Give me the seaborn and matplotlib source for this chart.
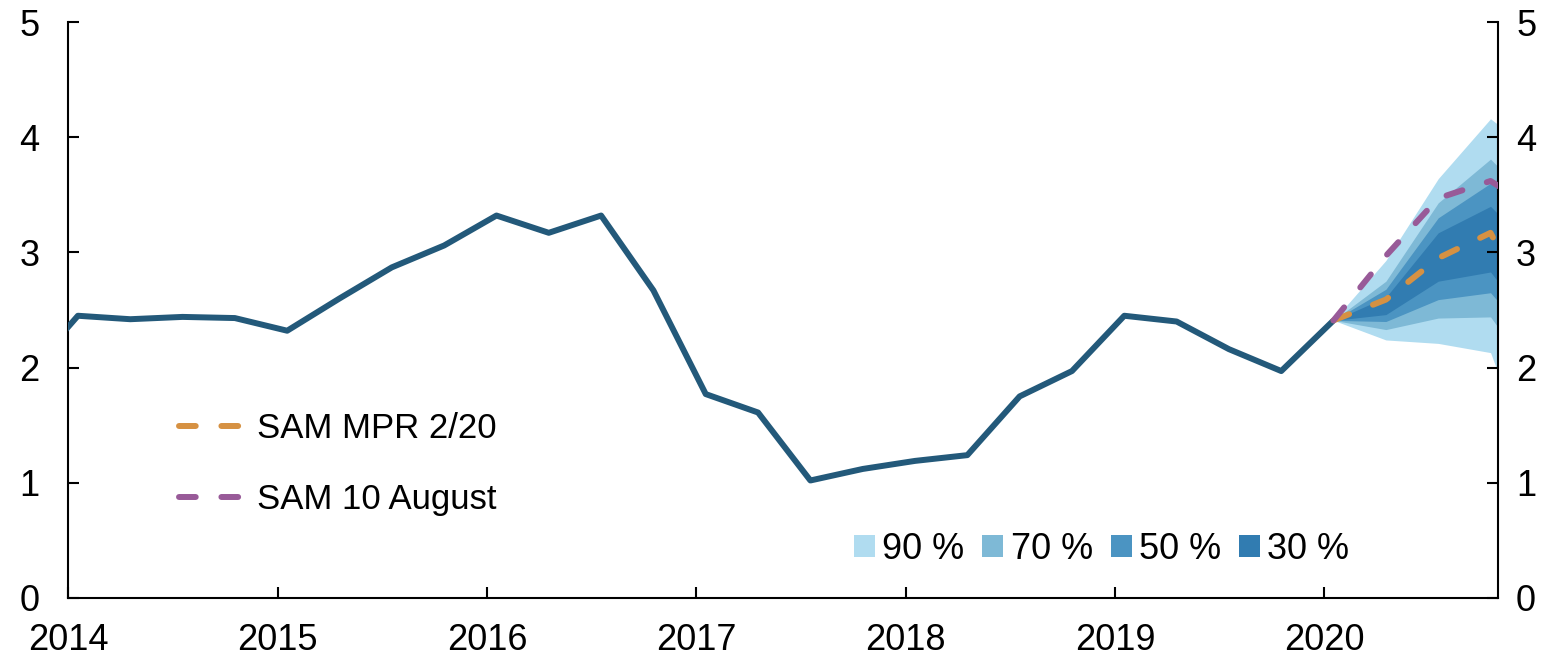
import numpy as np
import pandas as pd
import matplotlib
matplotlib.use("Agg")
import matplotlib.pyplot as plt
from matplotlib.patches import Patch
import seaborn as sns

# Quarterly observations (decimal year of each quarter's observation point)
hist_years = [2013.795, 2014.045, 2014.295, 2014.545, 2014.795,
              2015.045, 2015.295, 2015.545, 2015.795,
              2016.045, 2016.295, 2016.545, 2016.795,
              2017.045, 2017.295, 2017.545, 2017.795,
              2018.045, 2018.295, 2018.545, 2018.795,
              2019.045, 2019.295, 2019.545, 2019.795,
              2020.045]
hist_values = [1.93, 2.45, 2.42, 2.44, 2.43,
               2.32, 2.60, 2.87, 3.06,
               3.32, 3.17, 3.32, 2.67,
               1.77, 1.61, 1.02, 1.12,
               1.19, 1.24, 1.75, 1.97,
               2.45, 2.40, 2.16, 1.97,
               2.41]

# Projection horizon
proj_years = [2020.045, 2020.295, 2020.545, 2020.795, 2021.045]

# Point projections
sam_mpr = [2.41, 2.59, 2.95, 3.17, 2.30]
sam_aug = [2.41, 2.97, 3.47, 3.62, 3.33]

# Uncertainty bands (lower, upper)
band_90_lo = [2.41, 2.24, 2.21, 2.13, 0.91]
band_90_hi = [2.41, 2.93, 3.64, 4.16, 3.81]
band_70_lo = [2.41, 2.33, 2.43, 2.44, 1.81]
band_70_hi = [2.41, 2.75, 3.43, 3.81, 3.35]
band_50_lo = [2.41, 2.40, 2.59, 2.65, 2.13]
band_50_hi = [2.41, 2.68, 3.30, 3.60, 3.25]
band_30_lo = [2.41, 2.46, 2.75, 2.83, 2.25]
band_30_hi = [2.41, 2.61, 3.17, 3.40, 2.94]

band_labels = ["90 %", "70 %", "50 %", "30 %"]
band_colors = ["#b0dcf0", "#7eb9d6", "#4b94c2", "#317cb1"]

line_labels = ["SAM MPR 2/20", "SAM 10 August"]
line_colors = ["#d69142", "#985a98"]
main_color = "#23597a"

year_ticks = [2014, 2015, 2016, 2017, 2018, 2019, 2020]
value_ticks = [0, 1, 2, 3, 4, 5]

sns.set_theme(style="ticks")
plt.rcParams["font.family"] = ["Liberation Sans", "DejaVu Sans"]
plt.rcParams["text.color"] = "black"

fig = plt.figure(figsize=(15.6, 6.59), dpi=100)
ax = fig.add_axes([0.0439, 0.0926, 0.9164, 0.874])

hist = pd.DataFrame({"year": hist_years, "value": hist_values})
proj = pd.DataFrame({"year": proj_years, "mpr": sam_mpr, "aug": sam_aug})

# Fan bands, widest first
bands = [(band_90_lo, band_90_hi), (band_70_lo, band_70_hi),
         (band_50_lo, band_50_hi), (band_30_lo, band_30_hi)]
for (lo, hi), col in zip(bands, band_colors):
    ax.fill_between(proj_years, lo, hi, color=col, linewidth=0, zorder=1)

sns.lineplot(data=hist, x="year", y="value", ax=ax, color=main_color,
             linewidth=4.3, solid_capstyle="butt", zorder=3)
sns.lineplot(data=proj, x="year", y="mpr", ax=ax, color=line_colors[0],
             linewidth=4.3, zorder=4)
sns.lineplot(data=proj, x="year", y="aug", ax=ax, color=line_colors[1],
             linewidth=4.3, zorder=4)
for ln in ax.get_lines()[1:]:
    ln.set_dashes((2.8, 4.3))
    ln.set_dash_capstyle("round")

ax.set_xlim(2014.0, 2020.831)
ax.set_ylim(0, 5)
ax.set_xticks(year_ticks)
ax.set_xticklabels([str(y) for y in year_ticks])
ax.set_yticks(value_ticks)
ax.set_xlabel("")
ax.set_ylabel("")

for side in ["left", "right", "bottom"]:
    ax.spines[side].set_visible(True)
    ax.spines[side].set_linewidth(1.5)
    ax.spines[side].set_color("black")
ax.spines["top"].set_visible(False)

ax.tick_params(axis="both", direction="in", length=8, width=1.5,
               labelsize=26, colors="black")
ax.tick_params(axis="y", left=True, right=False, labelleft=True,
               labelright=False, pad=21)
ax.tick_params(axis="x", pad=18)

# Right-hand value axis, mirroring the left one
ax2 = ax.twinx()
ax2.set_ylim(0, 5)
ax2.set_yticks(value_ticks)
for side in ax2.spines:
    ax2.spines[side].set_visible(False)
ax2.tick_params(axis="y", direction="in", length=8, width=1.5,
                labelsize=26, colors="black", pad=13)
ax2.grid(False)

# Legend for the projection lines
line_handles = [plt.Line2D([0], [0], color=c, linewidth=4.3,
                           dashes=(2.8, 4.3), dash_capstyle="round")
                for c in line_colors]
leg1 = ax.legend(line_handles, line_labels, loc="upper left",
                 bbox_to_anchor=(0.0775, 0.323), frameon=False,
                 fontsize=25, handlelength=1.85, handletextpad=0.4,
                 labelspacing=1.09, borderpad=0, borderaxespad=0)
ax.add_artist(leg1)

# Legend for the uncertainty bands
band_handles = [Patch(facecolor=c, edgecolor="none") for c in band_colors]
ax.legend(band_handles, band_labels, loc="center left",
          bbox_to_anchor=(0.5495, 0.085), frameon=False, ncol=4,
          fontsize=26, handlelength=0.58, handleheight=0.58,
          handletextpad=0.2, columnspacing=0.5, borderpad=0,
          borderaxespad=0)

fig.savefig("out.png", dpi=100)
